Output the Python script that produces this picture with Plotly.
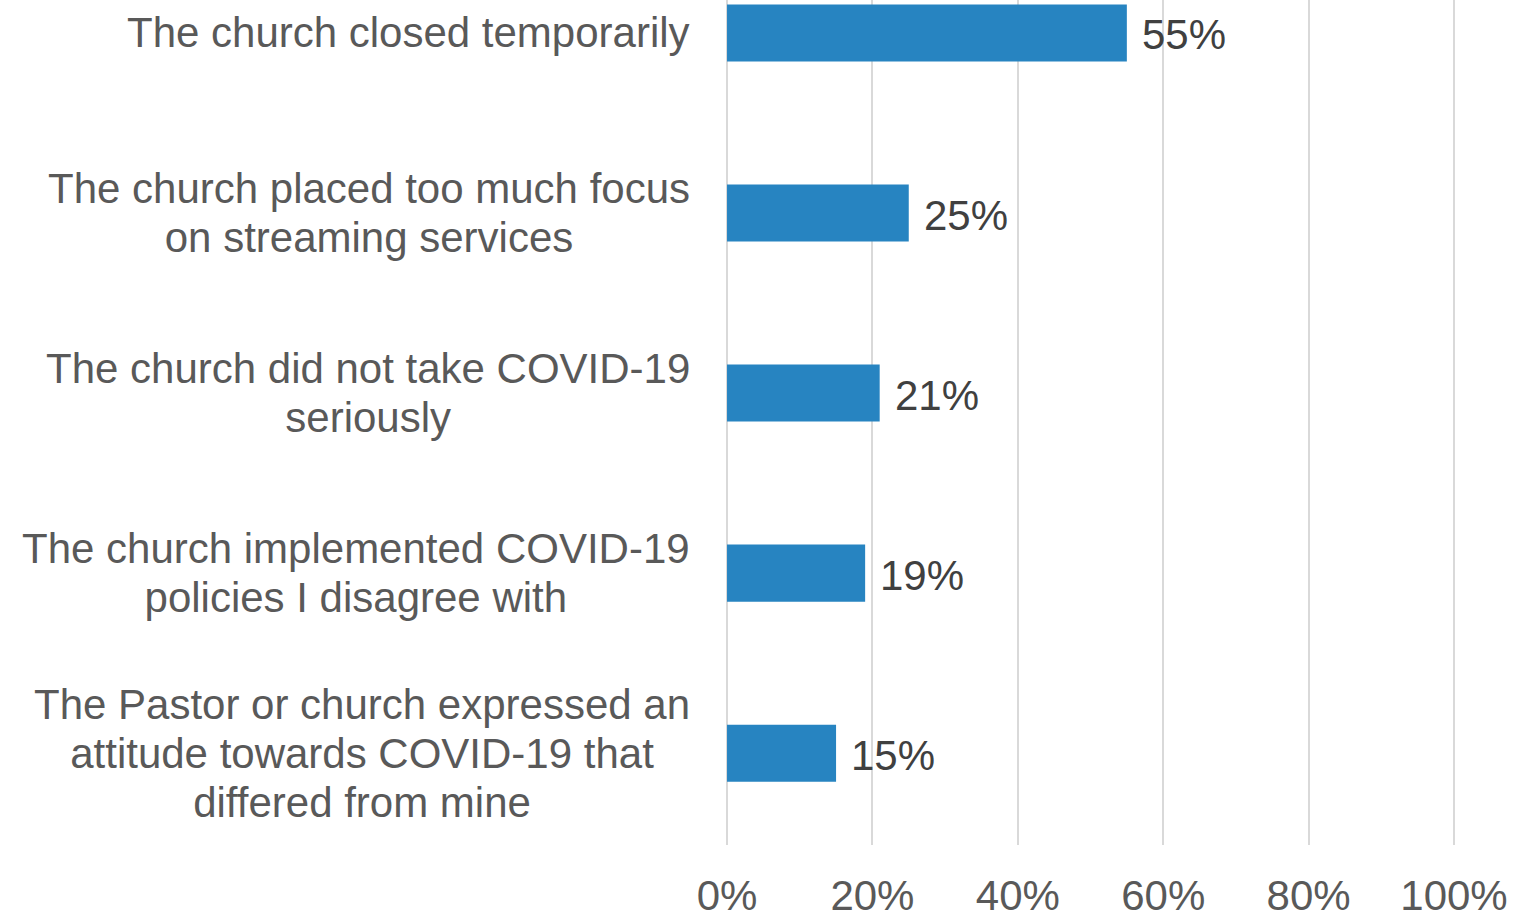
import plotly.graph_objects as go

categories = [
    "The church closed temporarily",
    "The church placed too much focus<br>on streaming services",
    "The church did not take COVID-19<br>seriously",
    "The church implemented COVID-19<br>policies I disagree with",
    "The Pastor or church expressed an<br>attitude towards COVID-19 that<br>differed from mine",
]
values = [0.55, 0.25, 0.21, 0.19, 0.15]
value_labels = ["55%", "25%", "21%", "19%", "15%"]
tick_vals = [0, 0.2, 0.4, 0.6, 0.8, 1.0]
tick_text = ["0%", "20%", "40%", "60%", "80%", "100%"]

FONT = "Liberation Sans, Arial, sans-serif"
BAR = "#2784C1"


def styled(label, px=42):
    lines = label.split("<br>")
    return "<br>".join(f"<span style='font-size:{px}px'>{ln}</span>" for ln in lines)


fig = go.Figure()
fig.add_trace(go.Bar(
    x=values, y=categories, orientation="h",
    marker=dict(color=BAR, line=dict(width=0)),
    width=0.317, hoverinfo="skip",
))

annotations = []
for cat in categories:
    annotations.append(dict(
        x=0, xref="paper", y=cat, yref="y", text=styled(cat),
        showarrow=False, xanchor="right", yanchor="middle", align="center",
        xshift=-34, font=dict(family=FONT, size=37.7, color="#595959"),
    ))
for cat, v, lab in zip(categories, values, value_labels):
    annotations.append(dict(
        x=v, xref="x", y=cat, yref="y", text=lab,
        showarrow=False, xanchor="left", yanchor="middle",
        xshift=13, yshift=-2, font=dict(family=FONT, size=42, color="#404040"),
    ))

fig.update_layout(
    width=1518, height=913,
    margin=dict(l=726, r=63, t=0, b=68, autoexpand=False),
    paper_bgcolor="white", plot_bgcolor="white",
    showlegend=False,
    annotations=annotations,
    font=dict(family=FONT),
    xaxis=dict(
        range=[-0.0014, 1.0014], tickvals=tick_vals, ticktext=tick_text,
        showgrid=True, gridcolor="#D9D9D9", gridwidth=1.5,
        zeroline=True, zerolinecolor="#D9D9D9", zerolinewidth=1.5,
        showline=False, automargin=False,
        ticks="outside", ticklen=0, ticklabelstandoff=14,
        tickfont=dict(family=FONT, size=42, color="#595959"),
        fixedrange=True,
    ),
    yaxis=dict(
        type="category", categoryorder="array", categoryarray=categories,
        range=[4.51, -0.183], showticklabels=False, showgrid=False,
        zeroline=False, showline=False, fixedrange=True, automargin=False,
    ),
)

fig.write_html(
    "out.html",
    config={"displayModeBar": False},
    post_script="document.body.style.margin='0';document.body.style.overflow='hidden';",
)
